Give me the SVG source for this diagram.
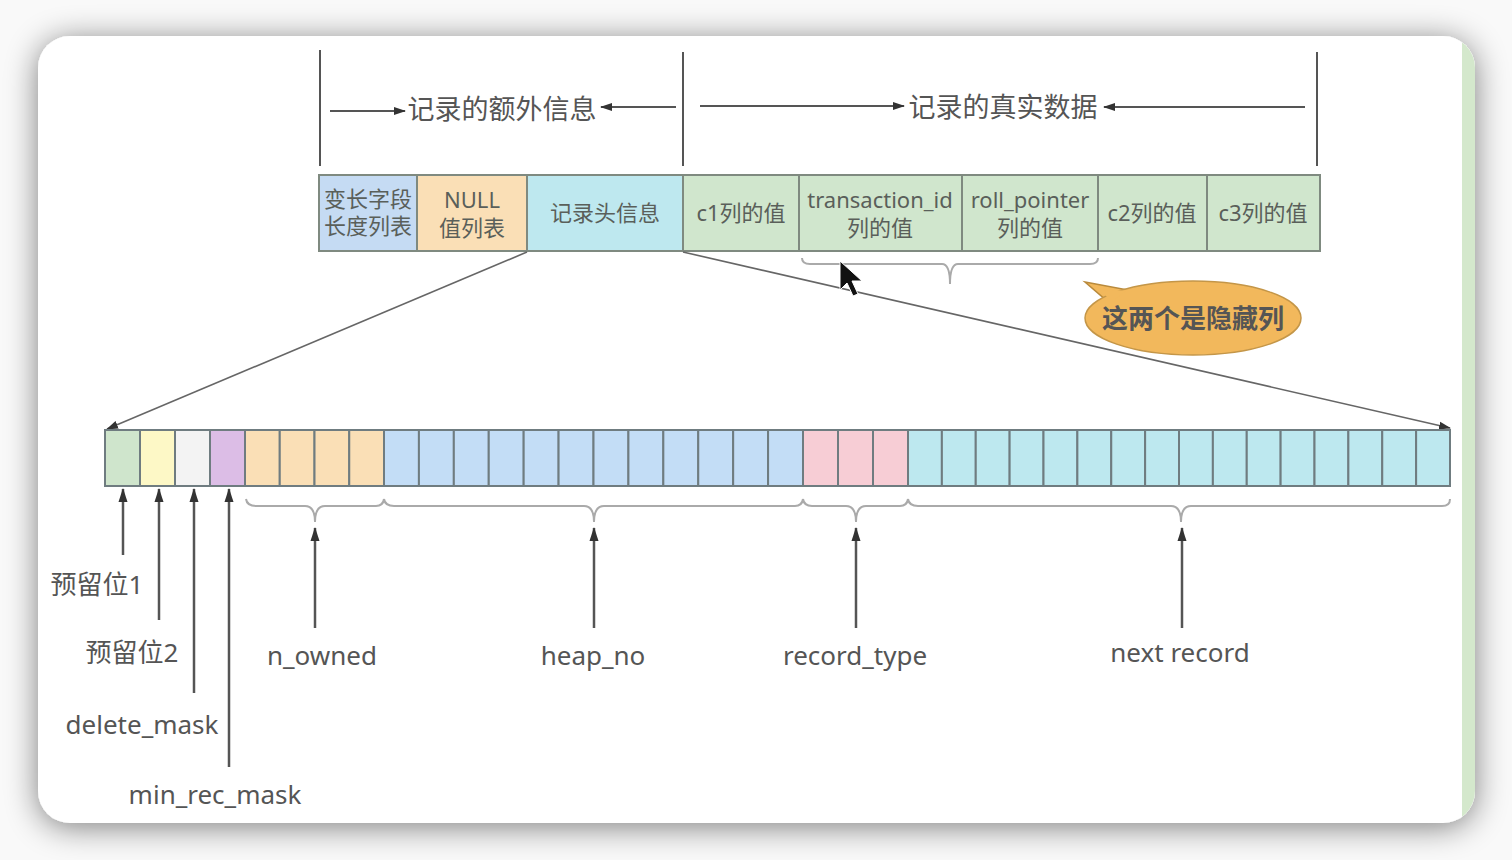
<svg xmlns="http://www.w3.org/2000/svg" width="1512" height="860" viewBox="0 0 1512 860">
<defs>
<filter id="sh" x="-10%" y="-10%" width="120%" height="120%">
<feGaussianBlur in="SourceAlpha" stdDeviation="16"/>
<feOffset dx="0" dy="4"/>
<feComponentTransfer><feFuncA type="linear" slope="0.5"/></feComponentTransfer>
<feMerge><feMergeNode/><feMergeNode in="SourceGraphic"/></feMerge>
</filter>
<clipPath id="cardclip"><rect x="38" y="36" width="1437" height="787" rx="32"/></clipPath>
<marker id="ah" viewBox="0 0 14 10" refX="13" refY="5" markerWidth="14" markerHeight="10" markerUnits="userSpaceOnUse" orient="auto">
<path d="M0,0.5 L14,5 L0,9.5 z" fill="#333"/>
</marker>
<marker id="ahs" viewBox="0 0 12 10" refX="11" refY="5" markerWidth="12" markerHeight="10" markerUnits="userSpaceOnUse" orient="auto">
<path d="M0,1 L12,5 L0,9 z" fill="#333"/>
</marker>
</defs>
<style>
.cell{stroke:#7f8a80;stroke-width:2}
.bit{stroke:#6f7c80;stroke-width:2}
.t{font-family:"Noto Sans","Noto Sans CJK SC",sans-serif;fill:#555;}
.h{font-size:27px;text-anchor:middle}
.c{font-size:22px;text-anchor:middle;fill:#5a5f5a}
.lbl{font-size:26px;text-anchor:middle}
.ln{stroke:#555;stroke-width:2;fill:none}
.dl{stroke:#666;stroke-width:1.6;fill:none}
.br{stroke:#aaa;stroke-width:2;fill:none}
.up{stroke:#555;stroke-width:2.5;fill:none}
</style>
<rect width="1512" height="860" fill="#f9f9f9"/>
<g id="card">
<rect x="38" y="36" width="1437" height="787" rx="32" fill="#fff" filter="url(#sh)"/>
<rect x="1462" y="20" width="14" height="820" fill="#d4e8cc" clip-path="url(#cardclip)"/>
</g>

<g id="headers">
<line class="ln" x1="320" y1="50" x2="320" y2="166"/>
<line class="ln" x1="683" y1="52" x2="683" y2="166"/>
<line class="ln" x1="1317" y1="52" x2="1317" y2="166"/>
<line class="ln" x1="330" y1="111" x2="405" y2="111" marker-end="url(#ahs)"/>
<line class="ln" x1="676" y1="107" x2="601" y2="107" marker-end="url(#ahs)"/>
<text class="t h" x="502" y="119">记录的额外信息</text>
<line class="ln" x1="700" y1="106" x2="904" y2="106" marker-end="url(#ahs)"/>
<line class="ln" x1="1305" y1="107" x2="1104" y2="107" marker-end="url(#ahs)"/>
<text class="t h" x="1003" y="117">记录的真实数据</text>
</g>

<g id="record">
<rect class="cell" x="319" y="175" width="98" height="76" fill="#c5dbf3"/>
<rect class="cell" x="417" y="175" width="110" height="76" fill="#fadfb6"/>
<rect class="cell" x="527" y="175" width="156" height="76" fill="#bee8ef"/>
<rect class="cell" x="683" y="175" width="116" height="76" fill="#d0e6cd"/>
<rect class="cell" x="799" y="175" width="163" height="76" fill="#d0e6cd"/>
<rect class="cell" x="962" y="175" width="136" height="76" fill="#d0e6cd"/>
<rect class="cell" x="1098" y="175" width="109" height="76" fill="#d0e6cd"/>
<rect class="cell" x="1207" y="175" width="113" height="76" fill="#d0e6cd"/>
<text class="t c" x="368" y="207">变长字段</text>
<text class="t c" x="368" y="234">长度列表</text>
<text class="t c" x="472" y="208">NULL</text>
<text class="t c" x="472" y="236">值列表</text>
<text class="t c" x="605" y="221">记录头信息</text>
<text class="t c" x="741" y="221">c1列的值</text>
<text class="t c" x="880" y="208">transaction_id</text>
<text class="t c" x="880" y="236">列的值</text>
<text class="t c" x="1030" y="208">roll_pointer</text>
<text class="t c" x="1030" y="236">列的值</text>
<text class="t c" x="1152" y="221">c2列的值</text>
<text class="t c" x="1263" y="221">c3列的值</text>
</g>

<g id="connectors">
<line class="dl" x1="527" y1="252" x2="107" y2="429" marker-end="url(#ahs)"/>
<line class="dl" x1="683" y1="252" x2="1450" y2="428" marker-end="url(#ahs)"/>
<path class="br" d="M802,258 Q802,264 810,264 L942,264 Q950,264 950,284 Q950,264 958,264 L1090,264 Q1098,264 1098,258"/>
</g>

<g id="callout">
<path d="M1085,282 L1128,290 L1106,300 Z" fill="#f2b85c" stroke="#b98a3c" stroke-width="1.5"/>
<ellipse cx="1193" cy="318" rx="108" ry="37" fill="#f2b85c" stroke="#c49648" stroke-width="1.5"/>
<path d="M1100,290 L1126,290.5 L1112,302 Z" fill="#f2b85c"/>
<text class="t" x="1193" y="328" font-size="26" text-anchor="middle" fill="#6a5030" font-weight="bold">这两个是隐藏列</text>
</g>

<g id="cursor">
<path d="M840,261 L840,290 L847,283 L853,296 L858,294 L852,281 L862,281 Z" fill="#111" stroke="#fff" stroke-width="1"/>
</g>

<g id="bits">
<rect class="bit" x="105" y="430" width="35" height="56" fill="#cfe5cc"/>
<rect class="bit" x="140" y="430" width="35" height="56" fill="#fdf8c6"/>
<rect class="bit" x="175" y="430" width="35" height="56" fill="#f3f3f3"/>
<rect class="bit" x="210" y="430" width="35" height="56" fill="#dcbde6"/>
<g fill="#fadfb6">
<rect class="bit" x="245" y="430" width="34.75" height="56"/>
<rect class="bit" x="279.75" y="430" width="34.75" height="56"/>
<rect class="bit" x="314.5" y="430" width="34.75" height="56"/>
<rect class="bit" x="349.25" y="430" width="34.75" height="56"/>
</g>
<g fill="#c3ddf6">
<rect class="bit" x="384" y="430" width="34.92" height="56"/>
<rect class="bit" x="418.92" y="430" width="34.92" height="56"/>
<rect class="bit" x="453.83" y="430" width="34.92" height="56"/>
<rect class="bit" x="488.75" y="430" width="34.92" height="56"/>
<rect class="bit" x="523.67" y="430" width="34.92" height="56"/>
<rect class="bit" x="558.58" y="430" width="34.92" height="56"/>
<rect class="bit" x="593.5" y="430" width="34.92" height="56"/>
<rect class="bit" x="628.42" y="430" width="34.92" height="56"/>
<rect class="bit" x="663.33" y="430" width="34.92" height="56"/>
<rect class="bit" x="698.25" y="430" width="34.92" height="56"/>
<rect class="bit" x="733.17" y="430" width="34.92" height="56"/>
<rect class="bit" x="768.08" y="430" width="34.92" height="56"/>
</g>
<g fill="#f7cdd5">
<rect class="bit" x="803" y="430" width="35" height="56"/>
<rect class="bit" x="838" y="430" width="35" height="56"/>
<rect class="bit" x="873" y="430" width="35" height="56"/>
</g>
<g fill="#bde8ef">
<rect class="bit" x="908" y="430" width="33.875" height="56"/>
<rect class="bit" x="941.875" y="430" width="33.875" height="56"/>
<rect class="bit" x="975.75" y="430" width="33.875" height="56"/>
<rect class="bit" x="1009.625" y="430" width="33.875" height="56"/>
<rect class="bit" x="1043.5" y="430" width="33.875" height="56"/>
<rect class="bit" x="1077.375" y="430" width="33.875" height="56"/>
<rect class="bit" x="1111.25" y="430" width="33.875" height="56"/>
<rect class="bit" x="1145.125" y="430" width="33.875" height="56"/>
<rect class="bit" x="1179" y="430" width="33.875" height="56"/>
<rect class="bit" x="1212.875" y="430" width="33.875" height="56"/>
<rect class="bit" x="1246.75" y="430" width="33.875" height="56"/>
<rect class="bit" x="1280.625" y="430" width="33.875" height="56"/>
<rect class="bit" x="1314.5" y="430" width="33.875" height="56"/>
<rect class="bit" x="1348.375" y="430" width="33.875" height="56"/>
<rect class="bit" x="1382.25" y="430" width="33.875" height="56"/>
<rect class="bit" x="1416.125" y="430" width="33.875" height="56"/>
</g>
</g>

<g id="braces">
<path class="br" d="M246,499 Q247,506 256,506 L305,506 Q315,506 315,522 Q315,506 325,506 L376,506 Q383,506 384,499"/>
<path class="br" d="M384,499 Q385,506 394,506 L584,506 Q594,506 594,522 Q594,506 604,506 L795,506 Q802,506 803,499"/>
<path class="br" d="M803,499 Q804,506 812,506 L846,506 Q856,506 856,522 Q856,506 866,506 L900,506 Q907,506 908,499"/>
<path class="br" d="M908,499 Q909,506 918,506 L1171,506 Q1181,506 1181,522 Q1181,506 1191,506 L1442,506 Q1450,506 1450,499"/>
</g>

<g id="pointers">
<line class="up" x1="123" y1="555" x2="123" y2="489" marker-end="url(#ah)"/>
<line class="up" x1="159" y1="620" x2="159" y2="489" marker-end="url(#ah)"/>
<line class="up" x1="194" y1="693" x2="194" y2="489" marker-end="url(#ah)"/>
<line class="up" x1="229" y1="767" x2="229" y2="489" marker-end="url(#ah)"/>
<line class="up" x1="315" y1="628" x2="315" y2="528" marker-end="url(#ah)"/>
<line class="up" x1="594" y1="628" x2="594" y2="528" marker-end="url(#ah)"/>
<line class="up" x1="856" y1="628" x2="856" y2="528" marker-end="url(#ah)"/>
<line class="up" x1="1182" y1="628" x2="1182" y2="528" marker-end="url(#ah)"/>
</g>

<g id="labels">
<text class="t lbl" x="97" y="594">预留位1</text>
<text class="t lbl" x="132" y="662">预留位2</text>
<text class="t lbl" x="142" y="734">delete_mask</text>
<text class="t lbl" x="215" y="804">min_rec_mask</text>
<text class="t lbl" x="322" y="665">n_owned</text>
<text class="t lbl" x="593" y="665">heap_no</text>
<text class="t lbl" x="855" y="665">record_type</text>
<text class="t lbl" x="1180" y="662">next record</text>
</g>
</svg>
